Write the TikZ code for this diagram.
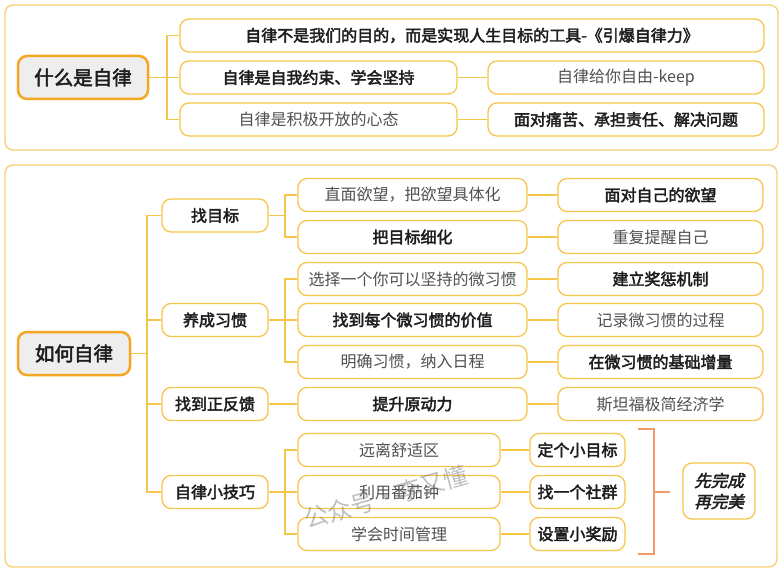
\documentclass[tikz,border=0pt]{standalone}
\usepackage{fontspec}
\setmainfont{Noto Sans CJK SC}[BoldFont={Noto Sans CJK SC}, BoldFeatures={FakeBold=2.6}]
\newfontfamily\slbf{Noto Sans CJK SC}[FakeBold=2.6, FakeSlant=0.25]
\definecolor{bord}{HTML}{F6C54A}
\definecolor{panelc}{HTML}{F9CD72}
\definecolor{rootbord}{HTML}{F5A623}
\definecolor{rootfill}{HTML}{EEEEEE}
\definecolor{txt}{HTML}{1E1E1E}
\definecolor{txtl}{HTML}{505050}
\definecolor{brk}{HTML}{F09A6A}
\newcommand\bxnode[7]{\node[#1, minimum width={#5pt-#3pt}, minimum height={#6pt-#4pt}] (#2) at ({(#3+#5)/2},{(#4+#6)/2}) {#7};}
\newcommand\lvnode[6]{\node[#1, minimum width={#4pt-#3pt}, minimum height=33pt] (#2) at ({(#3+#4)/2},#5) {#6};}
\begin{document}
\begin{tikzpicture}[x=1pt,y=-1pt,
  base/.style={draw=bord, line width=1.3pt, rounded corners=9pt, fill=white, inner sep=0pt, align=center},
  nb/.style={base, text=txtl, font=\fontsize{16}{19}\selectfont},
  bb/.style={base, text=txt, font=\fontsize{16}{19}\selectfont\bfseries},
  rootbox/.style={draw=rootbord, fill=rootfill, line width=2.5pt, rounded corners=9pt, inner sep=0pt, text=txt, font=\fontsize{19.5}{22}\selectfont\bfseries},
  conn/.style={draw=bord, line width=1.7pt},
  panel/.style={draw=panelc, line width=1.3pt, rounded corners=8pt},
  brkline/.style={draw=brk, line width=1.7pt}]
\useasboundingbox (0,0) rectangle (784,577);
% panels
\draw[panel] (5,5) rectangle (778,150);
\draw[panel] (5,165) rectangle (777,567);
% ---------- top
\bxnode{rootbox}{r1}{18}{56}{148}{99}{什么是自律}
\bxnode{bb}{c1}{180}{19}{764}{52}{自律不是我们的目的，而是实现人生目标的工具-《引爆自律力》}
\bxnode{bb}{c2}{180}{61}{457}{94}{自律是自我约束、学会坚持}
\bxnode{nb}{c3}{180}{103}{457}{136}{自律是积极开放的心态}
\bxnode{nb}{g2}{488}{61}{764}{94}{自律给你自由-keep}
\bxnode{bb}{g3}{488}{103}{764}{136}{面对痛苦、承担责任、解决问题}
\coordinate (tj) at (167,77.5);
\draw[conn] (r1.east) -- (tj);
\draw[conn] (c1.west) -| (tj);
\draw[conn] (c2.west) -- (tj);
\draw[conn] (c3.west) -| (tj);
\draw[conn] (c2.east) -- (g2.west);
\draw[conn] (c3.east) -- (g3.west);
% ---------- bottom
\bxnode{rootbox}{r2}{18}{332}{130}{375}{如何自律}
\lvnode{bb}{a1}{162}{268}{215.5}{找目标}
\lvnode{bb}{a2}{162}{268}{320}{养成习惯}
\lvnode{bb}{a3}{162}{268}{404}{找到正反馈}
\lvnode{bb}{a4}{162}{268}{492}{自律小技巧}
\lvnode{nb}{b1}{298}{527}{195}{直面欲望，把欲望具体化}
\lvnode{bb}{b2}{298}{527}{237}{把目标细化}
\lvnode{nb}{b3}{298}{527}{279}{选择一个你可以坚持的微习惯}
\lvnode{bb}{b4}{298}{527}{320}{找到每个微习惯的价值}
\lvnode{nb}{b5}{298}{527}{362}{明确习惯，纳入日程}
\lvnode{bb}{b6}{298}{527}{404}{提升原动力}
\lvnode{nb}{b7}{298}{500}{450}{远离舒适区}
\lvnode{nb}{b8}{298}{500}{492}{利用番茄钟}
\lvnode{nb}{b9}{298}{500}{534}{学会时间管理}
\lvnode{bb}{e1}{558}{763}{195}{面对自己的欲望}
\lvnode{nb}{e2}{558}{763}{237}{重复提醒自己}
\lvnode{bb}{e3}{558}{763}{279}{建立奖惩机制}
\lvnode{nb}{e4}{558}{763}{320}{记录微习惯的过程}
\lvnode{bb}{e5}{558}{763}{362}{在微习惯的基础增量}
\lvnode{nb}{e6}{558}{763}{404}{斯坦福极简经济学}
\lvnode{bb}{d1}{530}{625}{450}{定个小目标}
\lvnode{bb}{d2}{530}{625}{492}{找一个社群}
\lvnode{bb}{d3}{530}{625}{534}{设置小奖励}
\bxnode{base, text=txt, font=\fontsize{16.5}{21}\selectfont\slbf}{fin}{683}{463}{755}{519}{先完成\\再完美}
% connectors
\coordinate (bj) at (147,353.5);
\draw[conn] (r2.east) -- (bj);
\draw[conn] (a1.west) -| (bj);
\draw[conn] (a2.west) -| (bj);
\draw[conn] (a3.west) -| (bj);
\draw[conn] (a4.west) -| (bj);
\coordinate (k1) at (285,215.5);
\coordinate (k2) at (285,320);
\coordinate (k4) at (285,492);
\draw[conn] (a1.east) -- (k1);
\draw[conn] (b1.west) -| (k1);
\draw[conn] (b2.west) -| (k1);
\draw[conn] (a2.east) -- (k2);
\draw[conn] (b3.west) -| (k2);
\draw[conn] (b4.west) -- (k2);
\draw[conn] (b5.west) -| (k2);
\draw[conn] (a3.east) -- (b6.west);
\draw[conn] (a4.east) -- (k4);
\draw[conn] (b7.west) -| (k4);
\draw[conn] (b8.west) -- (k4);
\draw[conn] (b9.west) -| (k4);
\draw[conn] (b1.east) -- (e1.west);
\draw[conn] (b2.east) -- (e2.west);
\draw[conn] (b3.east) -- (e3.west);
\draw[conn] (b4.east) -- (e4.west);
\draw[conn] (b5.east) -- (e5.west);
\draw[conn] (b6.east) -- (e6.west);
\draw[conn] (b7.east) -- (d1.west);
\draw[conn] (b8.east) -- (d2.west);
\draw[conn] (b9.east) -- (d3.west);
% bracket
\coordinate (bt1) at (638,429);
\coordinate (bt2) at (654,429);
\coordinate (bb1) at (638,554);
\coordinate (bb2) at (654,554);
\coordinate (bm) at (654,492);
\coordinate (bmt) at (670,492);
\draw[brkline] (bt1) -- (bt2) -- (bb2) -- (bb1);
\draw[brkline] (bm) -- (bmt);
% watermark
\node[rotate=16, text=gray, opacity=0.5, font=\fontsize{24}{24}\selectfont] (wm) at (386,497) {公众号·李又懂};
\end{tikzpicture}
\end{document}
